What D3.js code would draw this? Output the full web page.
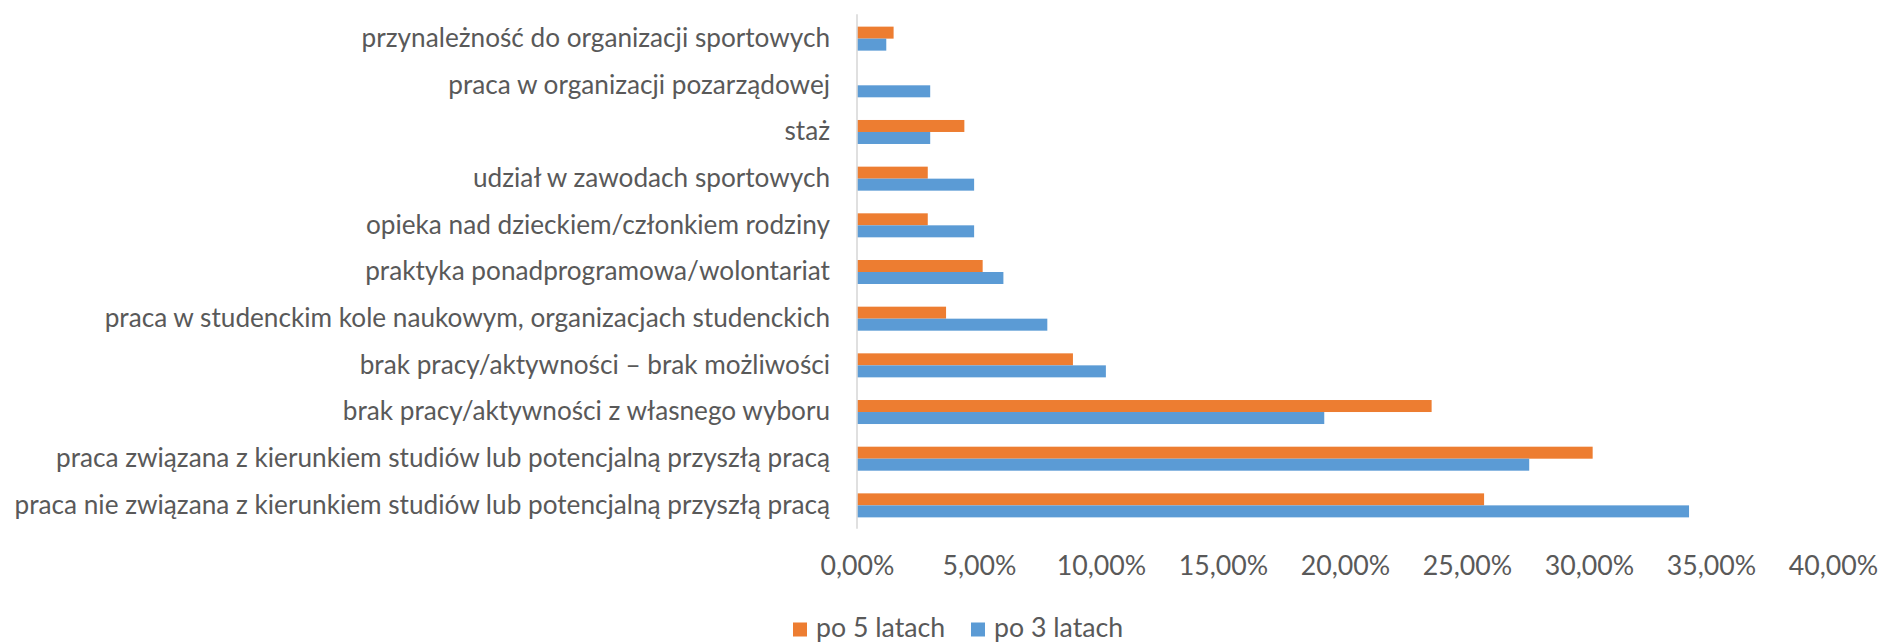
<!DOCTYPE html>
<html>
<head>
<meta charset="utf-8">
<script src="https://cdn.jsdelivr.net/npm/d3@7"></script>
<style>
  html, body { margin: 0; padding: 0; background: #ffffff; }
  svg { display: block; }
  text { font-family: Lato, "Noto Sans", sans-serif; fill: #595959; }
</style>
</head>
<body>
<svg id="chart" width="1881" height="643"></svg>
<script>
const categories = [
  "przynależność do organizacji sportowych",
  "praca w organizacji pozarządowej",
  "staż",
  "udział w zawodach sportowych",
  "opieka nad dzieckiem/członkiem rodziny",
  "praktyka ponadprogramowa/wolontariat",
  "praca w studenckim kole naukowym, organizacjach studenckich",
  "brak pracy/aktywności – brak możliwości",
  "brak pracy/aktywności z własnego wyboru",
  "praca związana z kierunkiem studiów lub potencjalną przyszłą pracą",
  "praca nie związana z kierunkiem studiów lub potencjalną przyszłą pracą"
];
const seriesNames = ["po 5 latach", "po 3 latach"];
const po5latach = [1.5, 0, 4.4, 2.9, 2.9, 5.15, 3.65, 8.85, 23.55, 30.15, 25.7];
const po3latach = [1.2, 3.0, 3.0, 4.8, 4.8, 6.0, 7.8, 10.2, 19.15, 27.55, 34.1];
const tickValues = [0, 5, 10, 15, 20, 25, 30, 35, 40];
const colors = ["#ED7D31", "#5B9BD5"];

(function () {
const svg = d3.select("#chart");
const plotLeft = 857, plotRight = 1833, plotTop = 15.3, plotBottom = 528.7;

const x = d3.scaleLinear().domain([0, 40]).range([plotLeft, plotRight]);
const y = d3.scaleBand().domain(categories).range([plotTop, plotBottom])
  .paddingInner(0.4857).paddingOuter(0.4857 / 2);
const ySub = d3.scaleBand().domain(seriesNames).range([0, y.bandwidth()]);

// fit font size so longest label matches reference width
const probe = svg.append("text").attr("font-size", 27).text(categories[categories.length - 1]);
const w = probe.node().getComputedTextLength();
probe.remove();
const fs = 27 * 816 / w;

const data = categories.map((c, i) => ({ c, vals: [po5latach[i], po3latach[i]] }));

const g = svg.append("g");
const groups = g.selectAll("g.cat").data(data).join("g")
  .attr("class", "cat")
  .attr("transform", d => `translate(0,${y(d.c)})`);

groups.selectAll("rect").data(d => d.vals.map((v, j) => ({ v, s: seriesNames[j], j })))
  .join("rect")
  .attr("x", x(0))
  .attr("y", d => ySub(d.s))
  .attr("width", d => x(d.v) - x(0))
  .attr("height", ySub.bandwidth())
  .attr("fill", d => colors[d.j]);

// category axis
const yAxis = d3.axisLeft(y).tickSize(0).tickPadding(27);
const yg = svg.append("g").attr("transform", `translate(${plotLeft},0)`).call(yAxis);
yg.select(".domain").attr("stroke", "#D9D9D9").attr("stroke-width", 1.6)
  .attr("d", `M0,${plotTop - 1}V${plotBottom}`);
yg.selectAll("text").attr("font-size", fs).attr("fill", "#595959")
  .style("font-family", "Lato, 'Noto Sans', sans-serif");

// value axis (labels only)
const xAxis = d3.axisBottom(x).tickValues(tickValues).tickSize(0).tickPadding(0)
  .tickFormat(d => d3.format(".2f")(d).replace(".", ",") + "%");
const xg = svg.append("g").attr("transform", `translate(0,${plotBottom})`).call(xAxis);
xg.select(".domain").remove();
xg.selectAll("text").attr("font-size", fs * 1.02).attr("fill", "#595959")
  .attr("y", 0).attr("dy", "1.75em")
  .style("font-family", "Lato, 'Noto Sans', sans-serif");

// legend
const legend = svg.append("g");
const legendX = [793, 971];
seriesNames.forEach((s, i) => {
  legend.append("rect").attr("x", legendX[i]).attr("y", 622.5)
    .attr("width", 14).attr("height", 14).attr("fill", colors[i]);
  legend.append("text").attr("x", legendX[i] + 23).attr("y", 636.5)
    .attr("font-size", fs * 1.02).text(s);
});
})();
</script>
</body>
</html>
